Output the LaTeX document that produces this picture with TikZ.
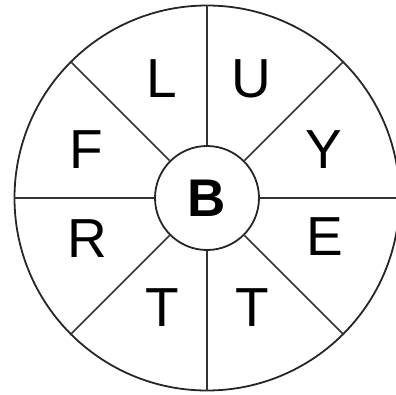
\documentclass[tikz,border=0pt]{standalone}
\usepackage{fontspec}
\setmainfont{Liberation Sans}
\usepackage{tikz}
\usetikzlibrary{positioning}

\begin{document}
\begin{tikzpicture}[x=1pt, y=1pt,
      roue/.style={draw=black!85, line width=1.8pt, circle, inner sep=0pt},
      rayon/.style={draw=black!80, line width=1.7pt},
      lettre/.style={font=\fontsize{55}{55}\selectfont, text height=39.4pt, text depth=0pt, inner sep=0pt}]
    \useasboundingbox (-207,-196) rectangle (189,198);
    \node[roue, minimum size=385pt] (rim) at (0,0) {};
    \node[roue, minimum size=104pt] (hub) at (0,0) {};
    \foreach \a in {0,45,...,315}
      \draw[rayon] (hub.\a) -- (rim.\a);
    \node[lettre, font=\fontsize{53}{53}\selectfont\bfseries] (b) at (0,1) {B};
    \node[lettre] (l)  at (-45,120)  {L};
    \node[lettre] (u)  at (44,120)   {U};
    \node[lettre] (y)  at (117,49)   {Y};
    \node[lettre] (e)  at (118,-38)  {E};
    \node[lettre] (t1) at (45,-109)  {T};
    \node[lettre] (t2) at (-45,-109) {T};
    \node[lettre] (r)  at (-120,-40) {R};
    \node[lettre] (f)  at (-121,49)  {F};
  \end{tikzpicture}
\end{document}
